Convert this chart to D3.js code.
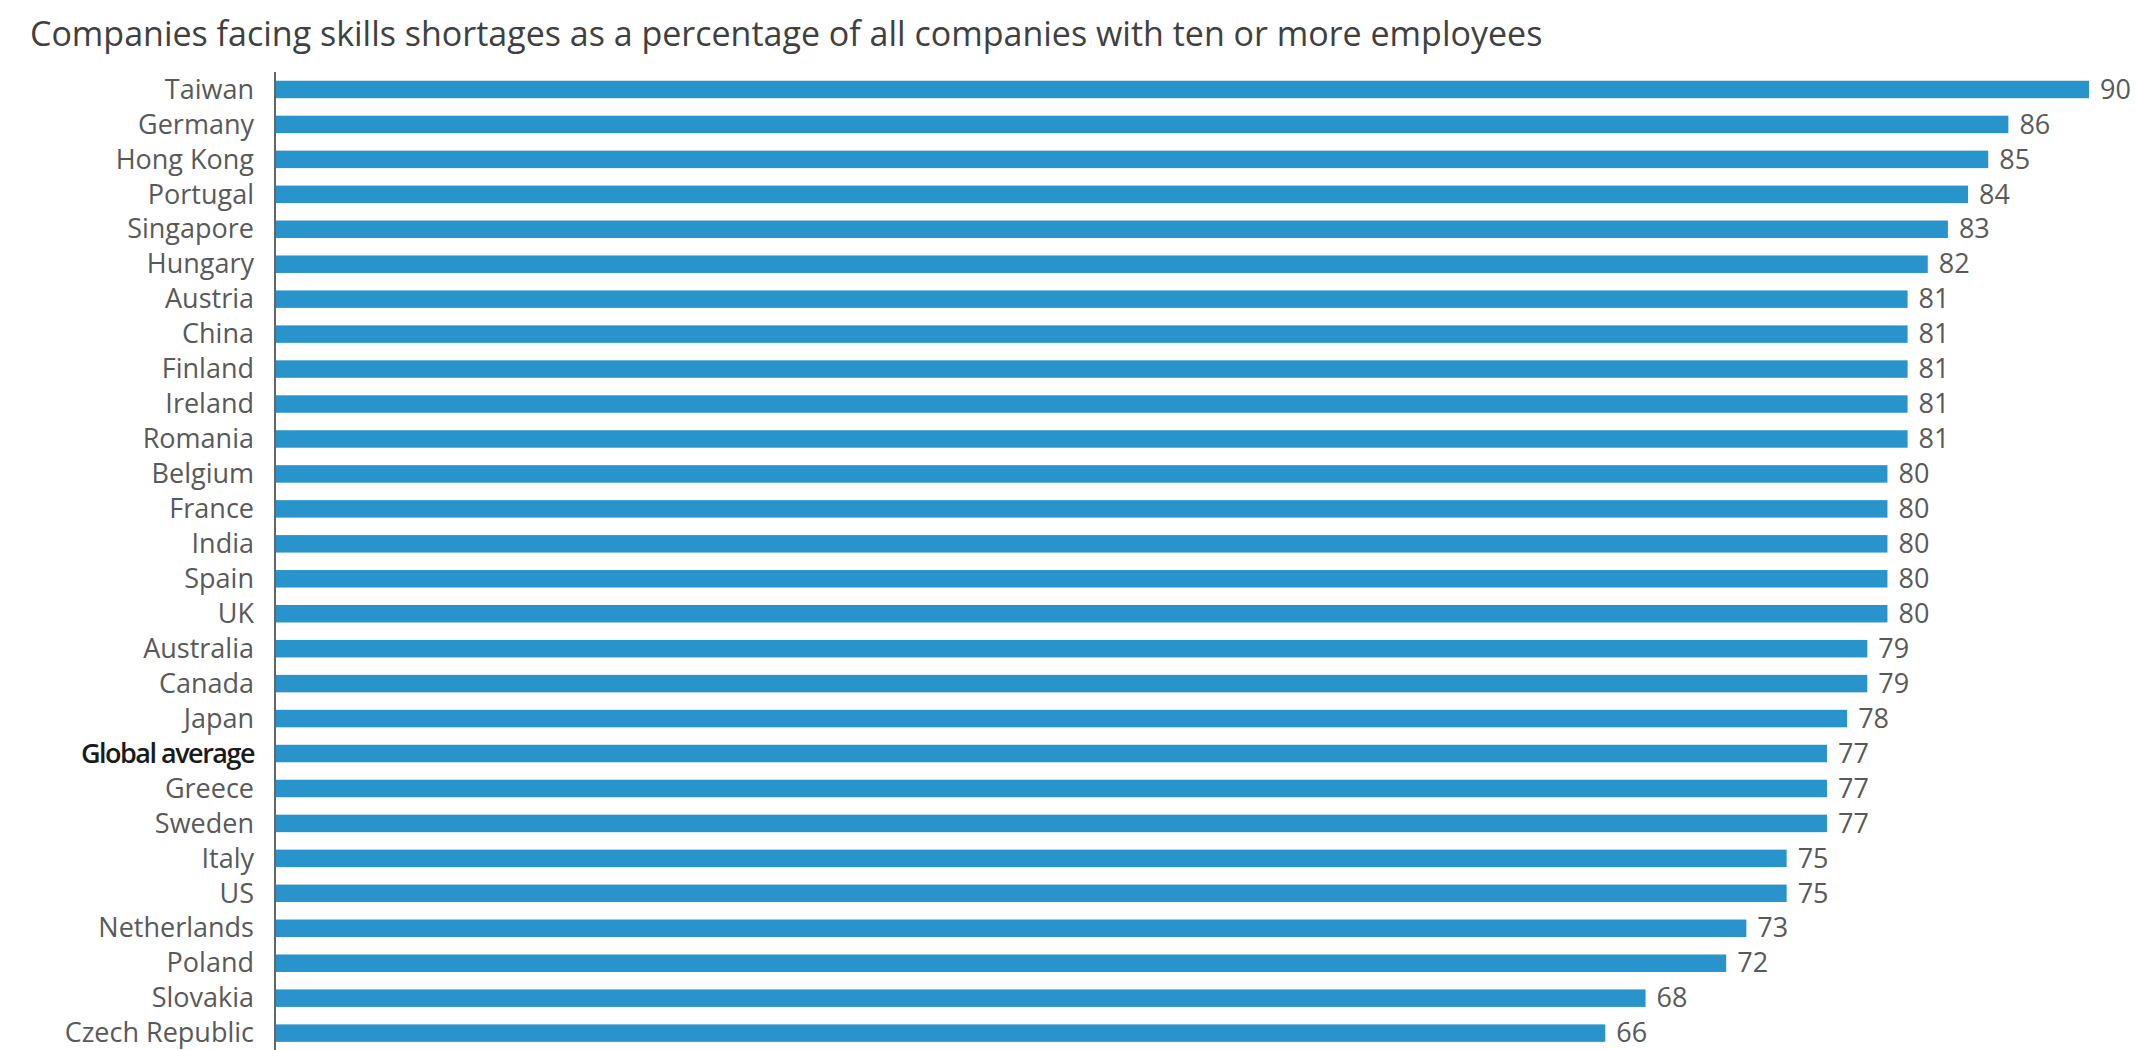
<!DOCTYPE html>
<html>
<head>
<meta charset="utf-8">
<script src="https://cdn.jsdelivr.net/npm/d3@7"></script>
<style>
  body { margin: 0; background: #fff; }
</style>
</head>
<body>
<div id="container"></div>
<script>
/* DATA */
const countries = ["Taiwan", "Germany", "Hong Kong", "Portugal", "Singapore", "Hungary", "Austria",
  "China", "Finland", "Ireland", "Romania", "Belgium", "France", "India", "Spain", "UK",
  "Australia", "Canada", "Japan", "Global average", "Greece", "Sweden", "Italy", "US",
  "Netherlands", "Poland", "Slovakia", "Czech Republic"];
const shortages = [90, 86, 85, 84, 83, 82, 81, 81, 81, 81, 81, 80, 80, 80, 80, 80,
  79, 79, 78, 77, 77, 77, 75, 75, 73, 72, 68, 66];
const highlight = "Global average";
const titleText = "Companies facing skills shortages as a percentage of all companies with ten or more employees";

/* CONSTANTS AND GLOBALS */
const width = 2137,
  height = 1050,
  margin = { top: 72, left: 275, right: 48 };

const data = countries.map((c, i) => ({ country: c, value: shortages[i] }));

// SCALES
const xScale = d3.scaleLinear()
  .domain([0, 90])
  .range([margin.left, width - margin.right]);

const yScale = d3.scaleBand()
  .domain(countries)
  .range([margin.top, margin.top + countries.length * 34.95])
  .paddingInner(0.5)
  .paddingOuter(0.25);

// CREATE SVG ELEMENT
const svg = d3.select("#container")
  .append("svg")
  .attr("width", width)
  .attr("height", height)
  .style("font-family", "'Open Sans', sans-serif");

// TITLE
svg.append("text")
  .attr("x", 30)
  .attr("y", 46)
  .attr("fill", "#404040")
  .style("font-size", "34px")
  .text(titleText);

// BARS
svg.selectAll(".bar")
  .data(data)
  .join("rect")
  .attr("class", "bar")
  .attr("x", xScale(0))
  .attr("y", d => yScale(d.country))
  .attr("width", d => xScale(d.value) - xScale(0))
  .attr("height", yScale.bandwidth())
  .attr("fill", "#2994cb");

// VALUE LABELS
svg.selectAll(".value")
  .data(data)
  .join("text")
  .attr("class", "value")
  .attr("x", d => xScale(d.value) + 11)
  .attr("y", d => yScale(d.country) + yScale.bandwidth() / 2)
  .attr("dy", "0.34em")
  .attr("fill", "#595959")
  .style("font-size", "27px")
  .text(d => d.value);

// Y AXIS (category labels)
const yAxis = d3.axisLeft(yScale).tickSize(0).tickPadding(21);
const yG = svg.append("g")
  .attr("class", "axis")
  .attr("transform", `translate(${margin.left},0)`)
  .call(yAxis);

yG.select(".domain").remove();
yG.append("line")
  .attr("x1", 0).attr("x2", 0)
  .attr("y1", margin.top).attr("y2", height)
  .attr("stroke", "#666")
  .attr("stroke-width", 2);

yG.selectAll(".tick text")
  .style("font-family", "'Open Sans', sans-serif")
  .style("font-size", "27px")
  .attr("dy", "0.34em")
  .attr("fill", d => d === highlight ? "#1a1a1a" : "#595959")
  .style("font-weight", d => d === highlight ? "600" : "400")
  .style("letter-spacing", d => d === highlight ? "-1.5px" : "0px");
</script>
</body>
</html>
